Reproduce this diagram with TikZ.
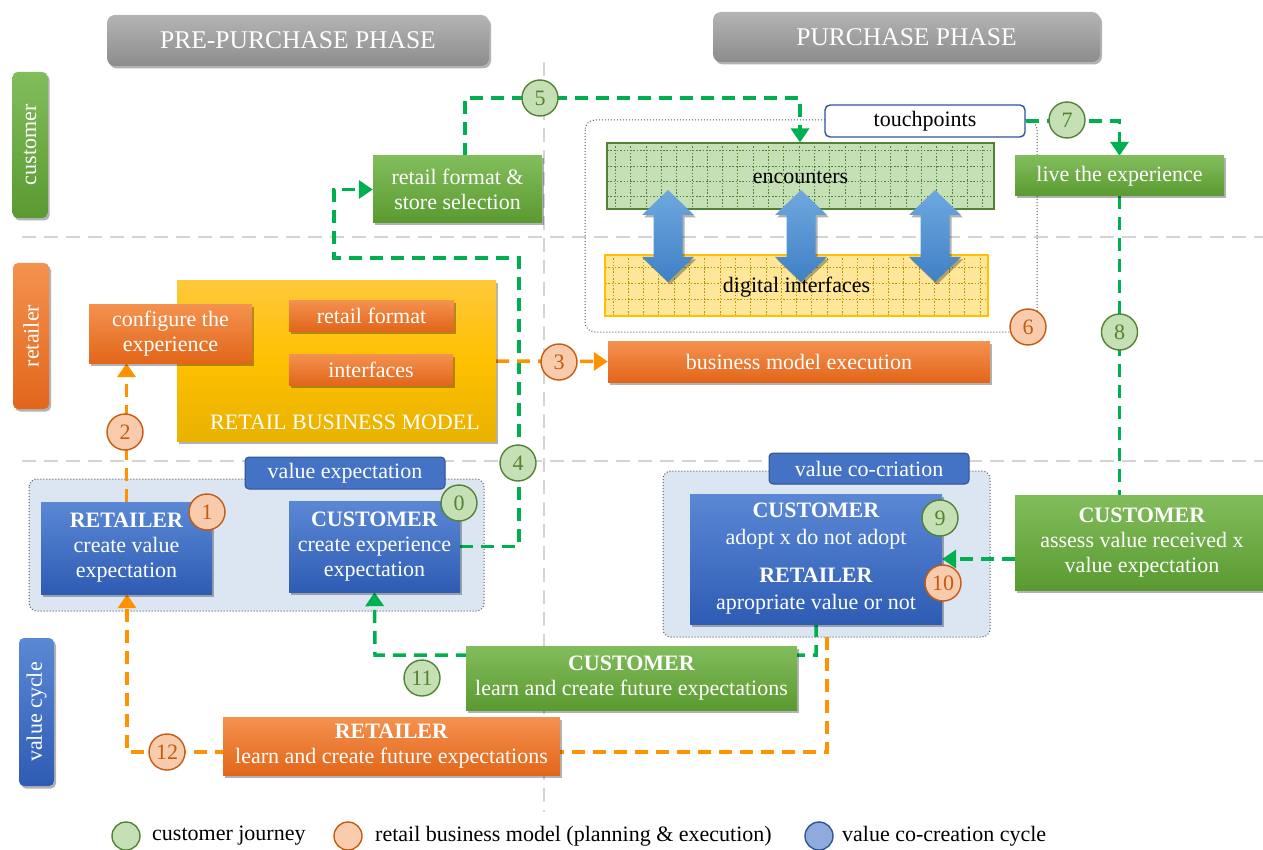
\documentclass[tikz,border=0pt]{standalone}
\usepackage{fontspec}
\setmainfont{Liberation Serif}
\usetikzlibrary{arrows.meta,shadows,calc}
\pgfdeclarelayer{back}
\pgfdeclarelayer{conn}
\pgfsetlayers{back,conn,main}
\definecolor{grT}{HTML}{82BD5C}
\definecolor{grB}{HTML}{5A9A30}
\definecolor{orT}{HTML}{F4924F}
\definecolor{orB}{HTML}{E2661A}
\definecolor{blT}{HTML}{5B88D4}
\definecolor{blB}{HTML}{2E5CB4}
\definecolor{lbl}{HTML}{4472C4}
\definecolor{lblD}{HTML}{2F528F}
\definecolor{yT}{HTML}{FFC83A}
\definecolor{yB}{HTML}{E8B200}
\definecolor{gyT}{HTML}{B4B4B4}
\definecolor{gyB}{HTML}{8C8C8C}
\definecolor{cgF}{HTML}{C5E0B4}
\definecolor{cgD}{HTML}{548235}
\definecolor{coF}{HTML}{F8CBAD}
\definecolor{coD}{HTML}{C55A11}
\definecolor{cbF}{HTML}{8FAADC}
\definecolor{cbD}{HTML}{2F5597}
\definecolor{regF}{HTML}{DCE6F2}
\definecolor{lineG}{HTML}{00B050}
\definecolor{lineO}{HTML}{FF9200}
\definecolor{guide}{HTML}{D4D4D4}
\definecolor{digF}{HTML}{FFE699}
\definecolor{digB}{HTML}{FFC000}
\definecolor{digD}{HTML}{BF9000}
\definecolor{arT}{HTML}{6FA8E0}
\definecolor{arB}{HTML}{3F80C4}
\tikzset{
 txt/.style={font=\fontsize{22}{25}\selectfont},
 shad/.style={drop shadow={shadow xshift=2pt,shadow yshift=-2.5pt,opacity=0.3,fill=black}},
 boxg/.style={shad,top color=grT,bottom color=grB,text=white,align=center,txt,inner sep=0pt},
 boxo/.style={shad,top color=orT,bottom color=orB,text=white,align=center,txt,inner sep=0pt},
 boxb/.style={shad,top color=blT,bottom color=blB,text=white,align=center,txt,inner sep=0pt},
 boxy/.style={shad,top color=yT,bottom color=yB,middle color=digB,inner sep=0pt},
 lblb/.style={fill=lbl,draw=lblD,line width=1pt,rounded corners=4pt,text=white,txt,inner sep=0pt},
 hdr/.style={shad,rounded corners=8pt,top color=gyT,bottom color=gyB,text=white,font=\fontsize{25.5}{30}\selectfont,inner sep=0pt},
 side/.style={shad,rounded corners=5pt,rotate=90,text=white,txt,inner sep=0pt},
 numg/.style={circle,draw=cgD,fill=cgF,line width=1.4pt,minimum size=36pt,inner sep=0pt,text=cgD,txt},
 numo/.style={circle,draw=coD,fill=coF,line width=1.4pt,minimum size=36pt,inner sep=0pt,text=coD,txt},
 legc/.style={circle,line width=1.4pt,minimum size=28pt,inner sep=0pt},
 gline/.style={draw=lineG,line width=3.5pt,dash pattern=on 13pt off 8pt},
 oline/.style={draw=lineO,line width=3.5pt,dash pattern=on 13pt off 8pt},
 tipg/.style={-{Triangle[length=14pt,width=18pt]}},
 guideline/.style={draw=guide,line width=2.5pt,dash pattern=on 14pt off 8pt},
 region/.style={fill=regF,draw=black!65,dotted,line width=1pt,rounded corners=8pt},
 encgrid/.style={draw=cgD,line width=1pt,dash pattern=on 1.5pt off 1.8pt},
 diggrid/.style={draw=digD,line width=1pt,dash pattern=on 1.5pt off 1.8pt},
 plain/.style={txt,inner sep=0pt},
}
\begin{document}
\begin{tikzpicture}[x=1pt,y=-1pt]
\useasboundingbox (0,0) rectangle (1263,850);
% headers and side labels
\node[hdr,minimum width=382pt,minimum height=51pt] (h1) at (298,40.5) {PRE-PURCHASE PHASE};
\node[hdr,minimum width=387pt,minimum height=50pt] (h2) at (906.5,37) {PURCHASE PHASE};
\node[side,top color=grT,bottom color=grB,minimum width=146pt,minimum height=35pt] (sc) at (30,145) {customer};
\node[side,top color=orT,bottom color=orB,minimum width=146pt,minimum height=36pt] (sr) at (31,336) {retailer};
\node[side,top color=blT,bottom color=blB,minimum width=148pt,minimum height=35pt] (sv) at (36.5,712) {value cycle};
% regions (back layer)
\begin{pgfonlayer}{back}
\draw[guideline] (22,237) -- (1263,237);
\draw[guideline] (22,461) -- (1263,461);
\draw[guideline] (544,62) -- (544,812);
\draw[region] (29,479) rectangle (484,611);
\draw[region] (663,471) rectangle (990,637);
\draw[draw=black!65,dotted,line width=1pt,rounded corners=10pt] (585,120) rectangle (1037,332);
\end{pgfonlayer}
% boxes
\node[boxg,minimum width=169pt,minimum height=67pt] (store) at (457.5,189.5) {retail format \&\\store selection};
\node[boxg,minimum width=209pt,minimum height=40pt] (live) at (1119.5,176) {live the experience};
\node[boxy,minimum width=319pt,minimum height=160pt] (rbm) at (336.5,361) {};
\node[text=white,plain] (rbmt) at (345,422) {RETAIL BUSINESS MODEL};
\node[boxo,minimum width=163pt,minimum height=59pt] (conf) at (170.5,333.5) {configure the\\experience};
\node[boxo,minimum width=165pt,minimum height=31pt] (rf) at (371.5,315.5) {retail format};
\node[boxo,minimum width=164pt,minimum height=31pt] (intf) at (371,369.5) {interfaces};
\node[boxo,minimum width=382pt,minimum height=41pt] (bme) at (799,361.5) {business model execution};
% encounters / digital interfaces
\node[fill=cgF,draw=cgD,line width=1.2pt,minimum width=387pt,minimum height=66pt,inner sep=0pt] (enc) at (800.5,176) {};
\begin{scope}
\clip (607,143) rectangle (994,209);
\foreach \i in {0,...,25} \draw[encgrid] ({615.5+15.3*\i},143) -- ++(0,66);
\foreach \j in {0,...,3} \draw[encgrid] (607,{151+15.3*\j}) -- ++(387,0);
\end{scope}
\draw[cgD,line width=1.2pt] (607,143) rectangle (994,209);
\node[fill=digF,draw=digB,line width=1.2pt,minimum width=383pt,minimum height=61pt,inner sep=0pt] (dig) at (796.5,285.5) {};
\begin{scope}
\clip (605,255) rectangle (988,316);
\foreach \i in {0,...,25} \draw[diggrid] ({613+15.3*\i},255) -- ++(0,61);
\foreach \j in {0,...,2} \draw[diggrid] (605,{268+15.8*\j}) -- ++(383,0);
\end{scope}
\draw[digB,line width=1.2pt] (605,255) rectangle (988,316);
\foreach \cx in {668,801,935}
  \shade[shad,top color=arT,bottom color=arB]
   (\cx,190) -- (\cx+26,215) -- (\cx+14.5,215) -- (\cx+14.5,257) -- (\cx+26,257) -- (\cx,282)
   -- (\cx-26,257) -- (\cx-14.5,257) -- (\cx-14.5,215) -- (\cx-26,215) -- cycle;
\node[plain] (enct) at (800.5,177) {encounters};
\node[plain] (digt) at (796.5,287) {digital interfaces};
\node[fill=white,draw=cbD,line width=1.4pt,rounded corners=5pt,minimum width=200pt,minimum height=32pt,inner sep=0pt,txt] (touch) at (925,121) {touchpoints};
% value expectation
\node[lblb,minimum width=200pt,minimum height=32pt] (lblL) at (345,473) {value expectation};
\node[boxb,minimum width=171pt,minimum height=92pt] (ret) at (126.5,548) {\textbf{RETAILER}\\create value\\expectation};
\node[boxb,minimum width=171pt,minimum height=91pt] (cust) at (374.5,546.5) {\textbf{CUSTOMER}\\create experience\\expectation};
% value co-creation
\node[lblb,minimum width=200pt,minimum height=31pt] (lblR) at (869,468.5) {value co-criation};
\node[boxb,minimum width=252pt,minimum height=130pt,font=\fontsize{22}{27}\selectfont] (inner) at (816,559) {\textbf{CUSTOMER}\\adopt x do not adopt\\[11pt]\textbf{RETAILER}\\apropriate value or not};
\node[boxg,minimum width=254pt,minimum height=95pt] (assess) at (1142,542.5) {\textbf{CUSTOMER}\\assess value received x\\value expectation};
\node[boxg,minimum width=331pt,minimum height=64pt] (clearn) at (631.5,678) {\textbf{CUSTOMER}\\learn and create future expectations};
\node[boxo,minimum width=337pt,minimum height=58pt] (rlearn) at (391.5,746) {\textbf{RETAILER}\\learn and create future expectations};
% connector coordinates
\coordinate (p4a) at (519,258);
\coordinate (p4b) at (334,258);
\coordinate (p5) at (800,98);
\coordinate (s5) at (465,156);
\coordinate (p11) at (375,655);
\coordinate (o10) at (827,637);
\coordinate (p12) at (127,752);
\begin{pgfonlayer}{conn}
\draw[gline,tipg] (cust.east) -| (p4a) -- (p4b) |- (store.west);
\draw[gline,tipg] (s5) |- (p5) -- (p5 |- enc.north);
\draw[gline,tipg] (touch.east) -| (live.north);
\draw[gline] (live.south) -- (live.south |- assess.north);
\draw[gline,tipg] (inner.east -| assess.west) -- (inner.east);
\draw[gline,tipg] (inner.south) |- (p11) -- (cust.south);
\draw[oline,tipg] (o10) |- (p12) -- (p12 |- ret.south);
\draw[oline,tipg] (ret.north) -- (ret.north |- conf.south);
\draw[oline,tipg] (rbm.east) -- (bme.west);
\end{pgfonlayer}
% number circles
\node[numg] (n0) at (459,503) {0};
\node[numo] (n1) at (207,512) {1};
\node[numo] (n2) at (125,432) {2};
\node[numo] (n3) at (559,362) {3};
\node[numg] (n4) at (518,463) {4};
\node[numg] (n5) at (540,98) {5};
\node[numo] (n6) at (1028,327) {6};
\node[numg] (n7) at (1067,120) {7};
\node[numg] (n8) at (1119.5,332) {8};
\node[numg] (n9) at (940,518) {9};
\node[numo] (n10) at (943,583) {10};
\node[numg] (n11) at (422,678) {11};
\node[numo] (n12) at (167,752) {12};
% legend
\node[legc,draw=cgD,fill=cgF] (lg1) at (126,836) {};
\node[plain,anchor=west] (lt1) at (152,836) {customer journey};
\node[legc,draw=coD,fill=coF] (lg2) at (348,836) {};
\node[plain,anchor=west] (lt2) at (375,836) {retail business model (planning \& execution)};
\node[legc,draw=cbD,fill=cbF] (lg3) at (819,836) {};
\node[plain,anchor=west] (lt3) at (842,836) {value co-creation cycle};
\end{tikzpicture}
\end{document}
